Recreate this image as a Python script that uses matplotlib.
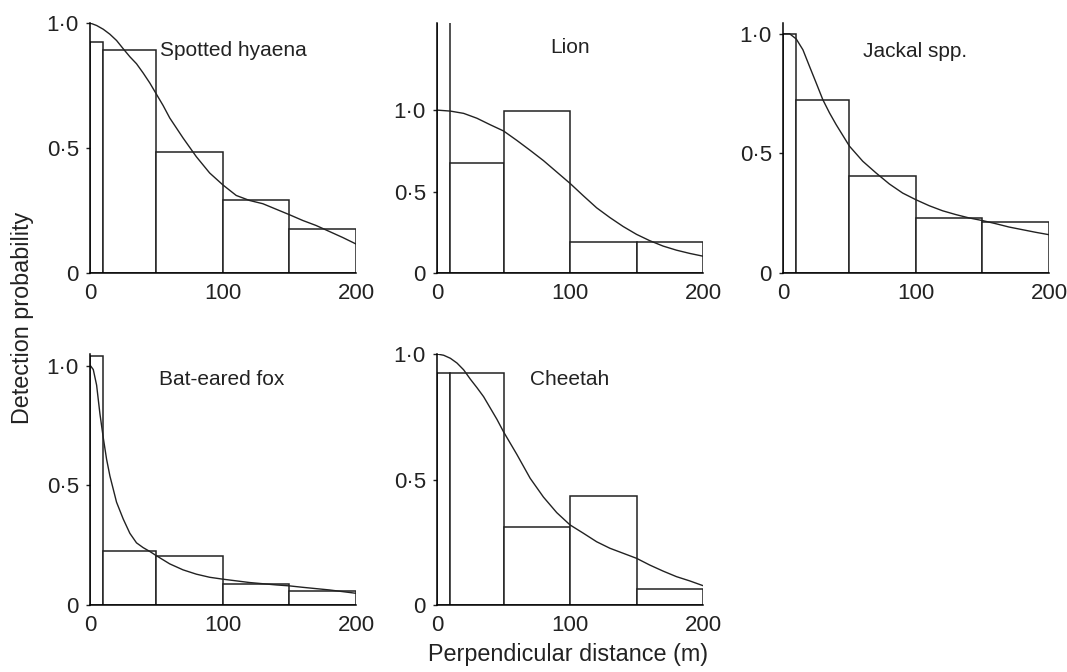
import numpy as np
import matplotlib
matplotlib.use('Agg')
import matplotlib.pyplot as plt

plt.rcParams['font.family'] = ['Liberation Sans', 'DejaVu Sans']

# bin edges (m) shared by all species
bin_edges = [0, 10, 50, 100, 150, 200]

species = ['Spotted hyaena', 'Lion', 'Jackal spp.', 'Bat-eared fox', 'Cheetah']

# scaled histogram heights
hyaena_bars = [0.925, 0.89, 0.485, 0.29, 0.175]
lion_bars = [1.60, 0.674, 0.993, 0.19, 0.19]
jackal_bars = [1.0, 0.721, 0.404, 0.228, 0.213]
fox_bars = [1.04, 0.224, 0.207, 0.087, 0.06]
cheetah_bars = [0.924, 0.924, 0.31, 0.434, 0.063]

# fitted detection functions
hyaena_x = [0, 5, 10, 15, 20, 25, 30, 35, 40, 45, 50, 55, 60, 70, 80, 90, 100,
            110, 120, 130, 140, 150, 160, 170, 180, 190, 200]
hyaena_curve = [1.0, 0.99, 0.975, 0.955, 0.93, 0.897, 0.865, 0.837, 0.80, 0.76, 0.715,
                0.67, 0.62, 0.54, 0.465, 0.40, 0.352, 0.31, 0.29, 0.277, 0.255, 0.233,
                0.21, 0.19, 0.166, 0.142, 0.116]

lion_x = [0, 10, 20, 30, 40, 50, 60, 70, 80, 90, 100,
          110, 120, 130, 140, 150, 160, 170, 180, 190, 200]
lion_curve = [1.0, 0.994, 0.98, 0.95, 0.91, 0.872, 0.814, 0.753, 0.69, 0.62, 0.55,
              0.474, 0.40, 0.34, 0.285, 0.237, 0.198, 0.165, 0.14, 0.12, 0.103]

cheetah_x = [0, 5, 10, 15, 20, 25, 30, 35, 40, 45, 50, 55, 60, 70, 80, 90, 100,
             110, 120, 130, 140, 150, 160, 170, 180, 190, 200]
cheetah_curve = [1.0, 0.995, 0.983, 0.964, 0.937, 0.90, 0.866, 0.83, 0.785, 0.74, 0.69,
                 0.645, 0.60, 0.505, 0.43, 0.368, 0.319, 0.286, 0.252, 0.226, 0.206,
                 0.186, 0.159, 0.135, 0.113, 0.096, 0.077]

jackal_x = [0, 5, 10, 15, 20, 25, 30, 35, 40, 50, 60, 70, 80, 90, 100,
            110, 120, 130, 140, 150, 160, 170, 180, 190, 200]
jackal_curve = [1.0, 1.0, 0.978, 0.933, 0.863, 0.794, 0.724, 0.669, 0.62, 0.53, 0.467,
                0.418, 0.372, 0.334, 0.306, 0.281, 0.26, 0.244, 0.23, 0.219, 0.206,
                0.192, 0.181, 0.17, 0.16]

fox_x = [0.5, 2.5, 5, 7.5, 10, 12.5, 15, 20, 25, 30, 35, 40, 45, 50, 60, 70, 80, 90,
         100, 120, 140, 150, 160, 180, 200]
fox_curve = [1.0, 0.985, 0.92, 0.80, 0.70, 0.61, 0.54, 0.43, 0.36, 0.30, 0.26, 0.24,
             0.224, 0.206, 0.172, 0.147, 0.129, 0.116, 0.108, 0.094, 0.084, 0.080,
             0.074, 0.063, 0.049]

y_tops = [1.0, 1.535, 1.045, 1.05, 1.0]

panels = [
    (hyaena_bars, hyaena_x, hyaena_curve),
    (lion_bars, lion_x, lion_curve),
    (jackal_bars, jackal_x, jackal_curve),
    (fox_bars, fox_x, fox_curve),
    (cheetah_bars, cheetah_x, cheetah_curve),
]

# axes boxes in figure fraction (left, bottom, width, height)
boxes = [
    (0.0843, 0.5938, 0.2493, 0.372),
    (0.4096, 0.5938, 0.2493, 0.372),
    (0.7338, 0.5938, 0.2493, 0.372),
    (0.0843, 0.0997, 0.2493, 0.3735),
    (0.4096, 0.0997, 0.2493, 0.3735),
]

label_pos = [(0.265, 0.89, 'left'), (0.5, 0.90, 'center'), (0.496, 0.886, 'center'),
             (0.495, 0.897, 'center'), (0.5, 0.897, 'center')]

fig = plt.figure(figsize=(10.67, 6.72), dpi=100)

widths = np.diff(bin_edges)
for i, (bars, cx, cy) in enumerate(panels):
    ax = fig.add_axes(boxes[i])
    ax.bar(bin_edges[:-1], bars, width=widths, align='edge',
           facecolor='white', edgecolor='#222222', linewidth=1.1)
    ax.plot(cx, cy, color='#222222', linewidth=1.0)
    ax.set_xlim(0, 200)
    ax.set_ylim(0, y_tops[i])
    ax.spines['top'].set_visible(False)
    ax.spines['right'].set_visible(False)
    ax.spines['left'].set_linewidth(1.1)
    ax.spines['bottom'].set_linewidth(1.1)
    ax.set_xticks([0, 100, 200])
    ax.set_xticklabels(['0', '100', '200'])
    ax.set_yticks([0, 0.5, 1.0])
    ax.set_yticklabels(['0', '0\u00b75', '1\u00b70'])
    ax.tick_params(axis='x', length=0, pad=7, labelsize=16, colors='#222222')
    ax.tick_params(axis='y', length=3, width=1.0, pad=5, labelsize=16, colors='#222222')
    lx, ly, ha = label_pos[i]
    ax.text(lx, ly, species[i], transform=ax.transAxes, ha=ha, va='center',
            fontsize=15, color='#222222')

fig.text(0.021, 0.527, 'Detection probability', rotation=90, ha='center',
         va='center', fontsize=16.8, color='#222222')
fig.text(0.532, 0.026, 'Perpendicular distance (m)', ha='center', va='center',
         fontsize=16.8, color='#222222')

fig.savefig('out.png', dpi=100)
